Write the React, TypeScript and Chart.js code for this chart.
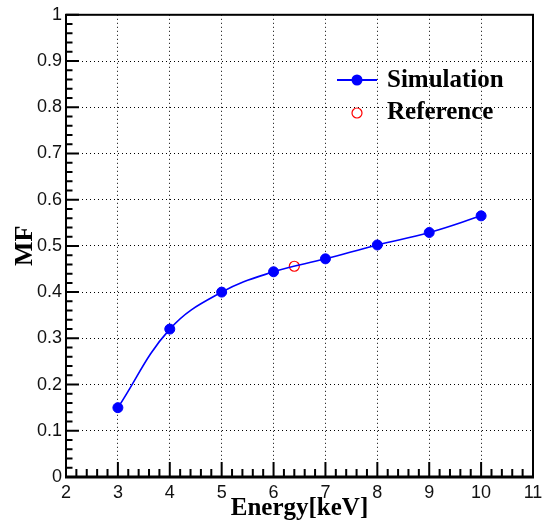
import React, { useEffect, useRef } from "react";
import { Chart, registerables } from "chart.js";

Chart.register(...registerables);

// Simulated MF versus photon energy
const energies = [3, 4, 5, 6, 7, 8, 9, 10];
const mfSimulation = [0.15, 0.32, 0.4, 0.444, 0.472, 0.502, 0.529, 0.565];
// Reference measurement
const refEnergy = [6.4];
const refMF = [0.456];

const xTickLabels = ["2", "3", "4", "5", "6", "7", "8", "9", "10", "11"];
const yTickLabels = ["0", "0.1", "0.2", "0.3", "0.4", "0.5", "0.6", "0.7", "0.8", "0.9", "1"];

const legendLabels = ["Simulation", "Reference"];

const BLUE = "#0000ff";
const RED = "#ff0000";

// Frame around the plot area plus inward-pointing major/minor ticks
const framePlugin = {
  id: "frameTicks",
  afterDatasetsDraw(chart: any) {
    const { ctx, chartArea, scales } = chart;
    const { left, right, top, bottom } = chartArea;
    const xs = scales.x;
    const ys = scales.y;
    ctx.save();
    ctx.strokeStyle = "#000";
    ctx.lineWidth = 2;
    ctx.strokeRect(left, top, right - left, bottom - top);
    ctx.lineWidth = 3;
    ctx.beginPath();
    ctx.moveTo(left - 1, bottom);
    ctx.lineTo(right + 1, bottom);
    ctx.stroke();

    ctx.lineWidth = 2;
    ctx.beginPath();
    // x ticks: every 0.2 units, majors at integers
    for (let i = 0; i <= 45; i++) {
      const v = 2 + i * 0.2;
      const px = xs.getPixelForValue(v);
      const len = i % 5 === 0 ? 15 : 8;
      ctx.moveTo(px, bottom);
      ctx.lineTo(px, bottom - len);
    }
    // y ticks: every 0.02 units, majors at each 0.1
    for (let i = 0; i <= 50; i++) {
      const v = i * 0.02;
      const py = ys.getPixelForValue(v);
      const len = i % 5 === 0 ? 13 : 6.5;
      ctx.moveTo(left, py);
      ctx.lineTo(left + len, py);
    }
    ctx.stroke();
    ctx.restore();
  },
};

// Legend entries placed in the upper right of the plot
const legendPlugin = {
  id: "entryLegend",
  afterDatasetsDraw(chart: any) {
    const { ctx } = chart;
    ctx.save();
    // Simulation entry: line with filled marker
    ctx.strokeStyle = BLUE;
    ctx.lineWidth = 2;
    ctx.beginPath();
    ctx.moveTo(337, 80);
    ctx.lineTo(377, 80);
    ctx.stroke();
    ctx.fillStyle = BLUE;
    ctx.beginPath();
    ctx.arc(357, 80, 5.5, 0, Math.PI * 2);
    ctx.fill();
    // Reference entry: open red circle
    ctx.strokeStyle = RED;
    ctx.lineWidth = 1.2;
    ctx.beginPath();
    ctx.arc(357, 113, 5, 0, Math.PI * 2);
    ctx.stroke();

    ctx.fillStyle = "#000";
    ctx.font = "bold 25px 'Liberation Serif', 'Times New Roman', serif";
    ctx.textAlign = "left";
    ctx.textBaseline = "alphabetic";
    ctx.fillText(legendLabels[0], 387, 87);
    ctx.fillText(legendLabels[1], 387, 119);
    ctx.restore();
  },
};

export default function App() {
  const canvasRef = useRef<HTMLCanvasElement | null>(null);

  useEffect(() => {
    document.body.style.margin = "0";
    const canvas = canvasRef.current;
    if (!canvas) return;

    const chart = new Chart(canvas, {
      type: "scatter",
      data: {
        datasets: [
          {
            label: legendLabels[0],
            data: energies.map((e, i) => ({ x: e, y: mfSimulation[i] })),
            showLine: true,
            borderColor: BLUE,
            backgroundColor: BLUE,
            borderWidth: 1.6,
            pointRadius: 5,
            pointBorderWidth: 1,
            pointBorderColor: BLUE,
            pointBackgroundColor: BLUE,
            tension: 0.4,
          },
          {
            label: legendLabels[1],
            data: refEnergy.map((e, i) => ({ x: e, y: refMF[i] })),
            showLine: false,
            borderColor: RED,
            backgroundColor: "rgba(0,0,0,0)",
            pointRadius: 5,
            pointBorderWidth: 1.2,
            pointBorderColor: RED,
            pointBackgroundColor: "rgba(0,0,0,0)",
          },
        ],
      },
      options: {
        responsive: false,
        animation: false,
        layout: { padding: { left: 0, top: 12, right: 18, bottom: 0 } },
        plugins: {
          legend: { display: false },
          tooltip: { enabled: false },
        },
        scales: {
          x: {
            type: "linear",
            min: 2,
            max: 11,
            afterFit: (s: any) => {
              s.height = 49;
            },
            afterBuildTicks: (s: any) => {
              s.ticks = xTickLabels.map((t) => ({ value: Number(t) }));
            },
            ticks: {
              padding: 5,
              color: "#111",
              font: { family: "'Liberation Sans', Arial, sans-serif", size: 18 },
              callback: (v: any) => xTickLabels[xTickLabels.indexOf(String(v))] ?? "",
              maxRotation: 0,
              autoSkip: false,
            },
            grid: { color: "#000", lineWidth: 1, drawTicks: false },
            border: { display: false, dash: [1, 3] },
            title: {
              display: true,
              text: "Energy[keV]",
              color: "#000",
              font: { family: "'Liberation Serif', 'Times New Roman', serif", size: 25, weight: "bold" },
              padding: { top: 0, bottom: 2 },
            },
          },
          y: {
            type: "linear",
            min: 0,
            max: 1,
            afterFit: (s: any) => {
              s.width = 66;
            },
            afterBuildTicks: (s: any) => {
              s.ticks = yTickLabels.map((t) => ({ value: Number(t) }));
            },
            ticks: {
              padding: 4,
              color: "#111",
              font: { family: "'Liberation Sans', Arial, sans-serif", size: 18 },
              callback: (v: any) => {
                const idx = yTickLabels.findIndex((t) => Math.abs(Number(t) - v) < 1e-9);
                return idx >= 0 ? yTickLabels[idx] : "";
              },
              autoSkip: false,
            },
            grid: { color: "#000", lineWidth: 1, drawTicks: false },
            border: { display: false, dash: [1, 3] },
            title: {
              display: true,
              text: "MF",
              color: "#000",
              font: { family: "'Liberation Serif', 'Times New Roman', serif", size: 26, weight: "bold" },
              padding: { top: 10, bottom: 0 },
            },
          },
        },
      },
      plugins: [framePlugin, legendPlugin],
    } as any);

    return () => chart.destroy();
  }, []);

  return (
    <canvas
      ref={canvasRef}
      width={551}
      height={526}
      style={{ display: "block", width: 551, height: 526 }}
    />
  );
}
